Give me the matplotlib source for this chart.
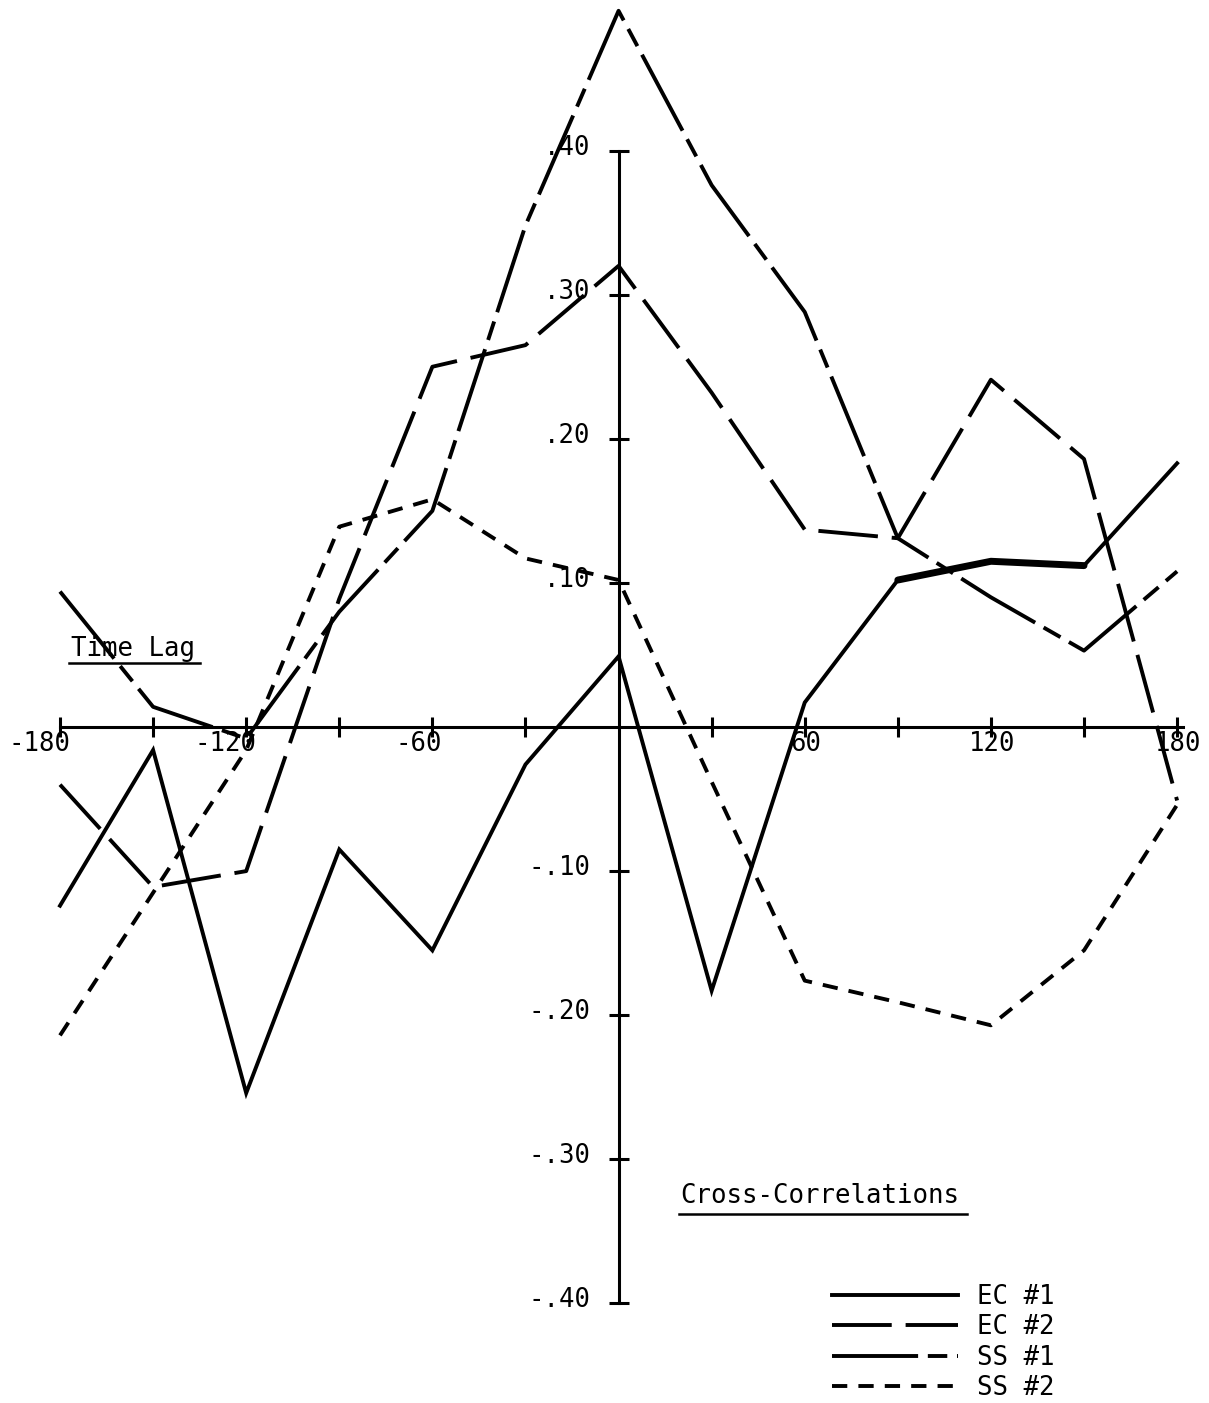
import matplotlib
matplotlib.use("Agg")
import matplotlib.pyplot as plt
from matplotlib.lines import Line2D
from matplotlib.transforms import offset_copy

plt.rcParams['font.family'] = ['DejaVu Sans Mono']
plt.rcParams['lines.scale_dashes'] = False

# cross-correlations at each time lag
lags = [-180, -150, -120, -90, -60, -30, 0, 30, 60, 90, 120, 150, 180]
ec1 = [-0.124, -0.016, -0.254, -0.085, -0.155, -0.026, 0.049, -0.183, 0.017, 0.102, 0.115, 0.112, 0.183]
ec2 = [-0.040, -0.111, -0.100, 0.089, 0.250, 0.265, 0.320, 0.232, 0.137, 0.131, 0.241, 0.186, -0.051]
ss1 = [0.094, 0.014, -0.008, 0.080, 0.150, 0.348, 0.497, 0.376, 0.288, 0.131, 0.090, 0.053, 0.108]
ss2 = [-0.214, -0.115, -0.016, 0.139, 0.158, 0.117, 0.102, -0.038, -0.176, -0.191, -0.207, -0.155, -0.054]

xticks = [-180, -150, -120, -90, -60, -30, 30, 60, 90, 120, 150, 180]
xlabels = {-180: "-180", -120: "-120", -60: "-60", 60: "60", 120: "120", 180: "180"}
yticks = [0.4, 0.3, 0.2, 0.1, -0.1, -0.2, -0.3, -0.4]
ylabels = [".40", ".30", ".20", ".10", "-.10", "-.20", "-.30", "-.40"]

W, H = 1209, 1403
fig = plt.figure(figsize=(W / 100, H / 100), dpi=100)
ax = fig.add_axes([0, 0, 1, 1])
ax.set_xlim(-199.34, 190.28)
ax.set_ylim(-0.4691, 0.5045)

LW = 2.8
l1, = ax.plot(lags, ec1, color="k", lw=LW, solid_joinstyle="miter", label="EC #1")
# the 90..150 stretch is inked heavier
ax.plot(lags[9:12], ec1[9:12], color="k", lw=5.0, solid_capstyle="round")
l2, = ax.plot(lags, ec2, color="k", lw=LW, dashes=(43, 10), label="EC #2")
l3, = ax.plot(lags, ss1, color="k", lw=LW, dashes=(62, 7, 14, 7), label="SS #1")
l4, = ax.plot(lags, ss2, color="k", lw=LW, dashes=(11, 8), label="SS #2")

# axes crossing at the origin
for s in ["top", "right"]:
    ax.spines[s].set_visible(False)
ax.spines["left"].set_position(("data", 0))
ax.spines["bottom"].set_position(("data", 0))
ax.spines["left"].set_bounds(-0.4, 0.4)
ax.spines["bottom"].set_bounds(-180, 182)
ax.spines["left"].set_linewidth(2.2)
ax.spines["bottom"].set_linewidth(2.2)
ax.set_xticks(xticks)
ax.set_yticks(yticks)
ax.set_xticklabels([])
ax.set_yticklabels([])
ax.tick_params(direction="inout", length=15, width=2.2)

fs = 18.5
for t, lab in xlabels.items():
    if t < 0:
        tr = offset_copy(ax.transData, fig=fig, x=10, y=-4, units="dots")
        ax.text(t, 0, lab, transform=tr, ha="right", va="top", fontsize=fs)
    else:
        tr = offset_copy(ax.transData, fig=fig, x=1, y=-4, units="dots")
        ax.text(t, 0, lab, transform=tr, ha="center", va="top", fontsize=fs)
for t, lab in zip(yticks, ylabels):
    tr = offset_copy(ax.transData, fig=fig, x=-28, y=3, units="dots")
    ax.text(0, t, lab, transform=tr, ha="right", va="center", fontsize=fs)


def px(x, y):
    return x / W, 1 - y / H


# underlined captions
fig.text(*px(71, 656), "Time Lag", fontsize=fs, ha="left", va="baseline")
fig.add_artist(Line2D([69 / W, 200 / W], [1 - 663 / H] * 2, color="k", lw=1.8))
fig.text(*px(680, 1203), "Cross-Correlations", fontsize=fs, ha="left", va="baseline")
fig.add_artist(Line2D([679 / W, 967 / W], [1 - 1214 / H] * 2, color="k", lw=1.8))

ax.legend(handles=[l1, l2, l3, l4], loc="upper left",
          bbox_to_anchor=px(832, 1284), bbox_transform=fig.transFigure,
          frameon=False, fontsize=fs, handlelength=4.9, handletextpad=0.75,
          labelspacing=0.17, borderpad=0, borderaxespad=0)

fig.savefig("out.png", dpi=100, facecolor="white")
